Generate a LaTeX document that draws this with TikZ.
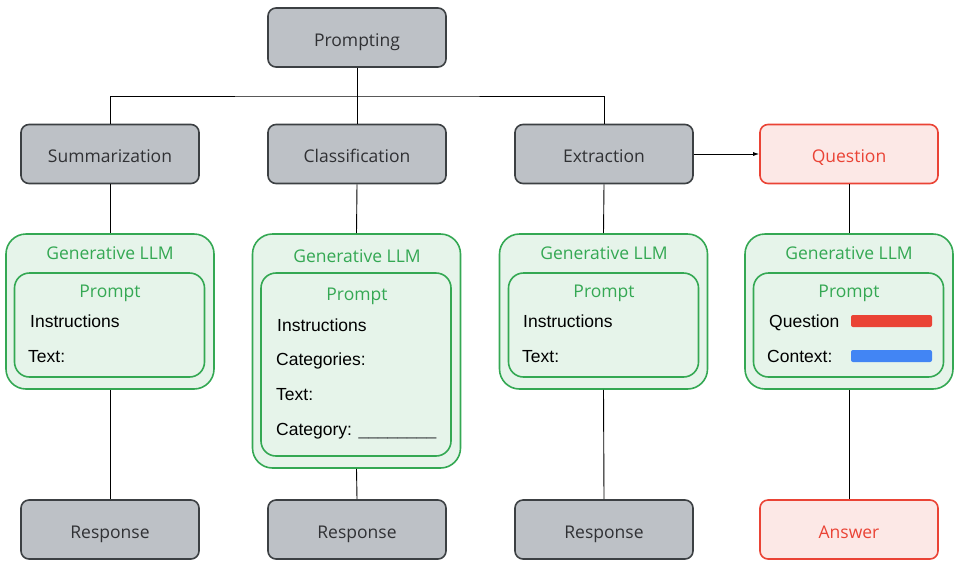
\documentclass[tikz,border=0pt]{standalone}
\usepackage{fontspec}
\setmainfont{Liberation Sans}
\newfontfamily\labelfont{Open Sans}
\usetikzlibrary{arrows.meta}

\definecolor{boxgray}{HTML}{BDC1C6}
\definecolor{linegray}{HTML}{3C4043}
\definecolor{labelgray}{HTML}{303134}
\definecolor{llmgreen}{HTML}{34A853}
\definecolor{llmfill}{HTML}{E6F4EA}
\definecolor{qred}{HTML}{EA4335}
\definecolor{qfill}{HTML}{FCE8E6}
\definecolor{ctxblue}{HTML}{4285F4}

\tikzset{
  task/.style={draw=linegray, line width=1.6pt, fill=boxgray, rounded corners=8pt,
    minimum width=178pt, minimum height=59pt, text=labelgray,
    text height=17pt, text depth=0pt,
    font=\labelfont\fontsize{17.5}{20}\selectfont},
  qa/.style={task, draw=qred, fill=qfill, text=qred},
  llm/.style={draw=llmgreen, line width=1.6pt, fill=llmfill, rounded corners=20pt,
    minimum width=208pt},
  prompt/.style={draw=llmgreen, line width=1.6pt, fill=llmfill, rounded corners=15pt,
    minimum width=190pt},
  llmtext/.style={text=llmgreen, text height=12.5pt, text depth=0pt,
    font=\labelfont\fontsize{17.5}{20}\selectfont},
  field/.style={anchor=west, inner sep=0pt, text height=12.5pt, text depth=0pt,
    font=\fontsize{17.5}{21}\selectfont},
  bar/.style={rounded corners=2pt, minimum width=81pt, minimum height=12pt, inner sep=0pt},
  link/.style={line width=0.9pt, black}
}

\begin{document}
\begin{tikzpicture}[x=1pt,y=-1pt]
\useasboundingbox (0,0) rectangle (958,566);

\node[task] (prompting) at (357,37.5) {Prompting};
\node[task] (summ) at (110,154) {Summarization};
\node[task] (classif) at (357,154) {Classification};
\node[task] (extr) at (604,154) {Extraction};
\node[qa] (question) at (849,154) {Question};

\node[task] (resp1) at (110,529.5) {Response};
\node[task] (resp2) at (357,529.5) {Response};
\node[task] (resp3) at (604,529.5) {Response};
\node[qa] (answer) at (849,529.5) {Answer};

\coordinate (bus) at (357,96);

% connectors
\draw[link] (prompting) -- (classif);
\draw[link] (summ.north) |- (bus) -| (extr.north);
\draw[link, -{Latex[length=6pt,width=4pt]}] (extr) -- (question);

% generative LLM boxes
\node[llm, minimum height=155pt] (llm1) at (110,311.5) {};
\node[llm, minimum height=234pt] (llm2) at (356.5,351) {};
\node[llm, minimum height=155pt] (llm3) at (603.5,311.5) {};
\node[llm, minimum height=155pt] (llm4) at (849,311.5) {};

\foreach \a/\b in {summ/llm1, llm1/resp1, classif/llm2, llm2/resp2,
                   extr/llm3, llm3/resp3, question/llm4, llm4/answer}
  \draw[link] (\a.south) -- (\b.north);

\node[llmtext] (gen1) at (110,253) {Generative LLM};
\node[llmtext] (gen2) at (357,256) {Generative LLM};
\node[llmtext] (gen3) at (604,253) {Generative LLM};
\node[llmtext] (gen4) at (849,253) {Generative LLM};

\node[prompt, minimum height=104pt] (pr1) at (109.5,325) {};
\node[prompt, minimum height=183pt] (pr2) at (356,364.5) {};
\node[prompt, minimum height=104pt] (pr3) at (603.5,325) {};
\node[prompt, minimum height=104pt] (pr4) at (848.5,325) {};

\node[llmtext] (ptitle1) at (110,291) {Prompt};
\node[llmtext] (ptitle2) at (357,294) {Prompt};
\node[llmtext] (ptitle3) at (604,291) {Prompt};
\node[llmtext] (ptitle4) at (849,291) {Prompt};

% prompt fields
\node[field] (instr1) at (30,321) {Instructions};
\node[field] (text1) at (28,356) {Text:};

\node[field] (instr2) at (277,325) {Instructions};
\node[field] (cats2) at (276,359) {Categories:};
\node[field] (text2) at (276,394) {Text:};
\node[field] (cat2) at (276,429) {Category: \textcolor{linegray}{\_\_\_\_\_\_\_\_}};

\node[field] (instr3) at (523,321) {Instructions};
\node[field] (text3) at (522,356) {Text:};

\node[field] (quest4) at (769,321) {Question};
\node[field] (ctx4) at (767,356) {Context:};
\node[bar, fill=qred] (qbar) at (891.5,321) {};
\node[bar, fill=ctxblue] (cbar) at (891.5,356) {};
\end{tikzpicture}
\end{document}
